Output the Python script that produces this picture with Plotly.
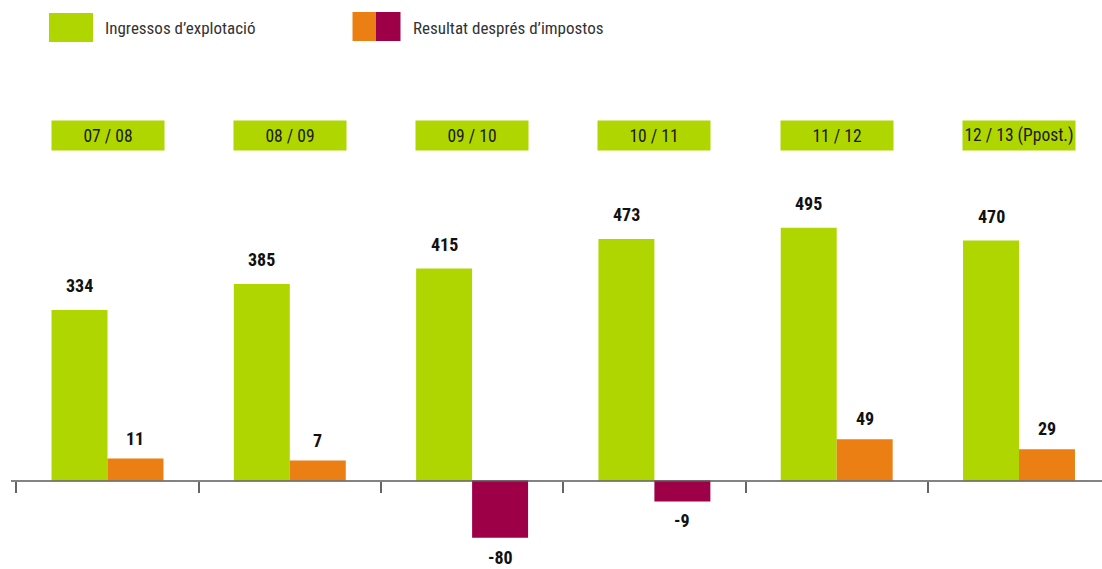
import plotly.graph_objects as go
import numpy as np

# ---------------- data ----------------
categories = ["07 / 08", "08 / 09", "09 / 10", "10 / 11", "11 / 12", "12 / 13 (Ppost.)"]
ingressos = [334, 385, 415, 473, 495, 470]
resultat = [11, 7, -80, -9, 49, 29]
series_names = ["Ingressos d’explotació", "Resultat després d’impostos"]

# ---------------- style ----------------
GREEN = "#B0D600"
ORANGE = "#EB7F14"
PURPLE = "#9E0048"
FONT = "Roboto Condensed, Liberation Sans Narrow, Roboto, sans-serif"

W, H = 1102, 569
ML, MR, MT, MB = 11, 0, 0, 0
PX_PER_UNIT = 0.5106      # vertical scale
ZERO_PX = 480.5           # pixel row of the zero line
CAT_PX = 182.3            # width of one category
FIRST_CENTER_PX = 107.5   # centre of first category
BARGAP = 0.386
STUB = 32                 # minimum visual stub the infographic adds to the result bars (data units)

plot_w = W - ML - MR
plot_h = H - MT - MB
x0 = -(FIRST_CENTER_PX - ML) / CAT_PX
x1 = x0 + plot_w / CAT_PX
ymin = -(H - MB - ZERO_PX) / PX_PER_UNIT
ymax = ymin + plot_h / PX_PER_UNIT

res_plot = [v + STUB * np.sign(v) for v in resultat]
res_colors = [ORANGE if v >= 0 else PURPLE for v in resultat]


def px_x(p):
    return (p - ML) / plot_w


def px_y(p):
    return (H - MB - p) / plot_h


fig = go.Figure()
fig.add_trace(go.Bar(
    x=categories, y=ingressos, name=series_names[0],
    marker=dict(color=GREEN, line=dict(width=0)),
    hovertemplate="%{x}: %{y}<extra>" + series_names[0] + "</extra>",
    showlegend=False,
))
fig.add_trace(go.Bar(
    x=categories, y=res_plot, name=series_names[1],
    marker=dict(color=res_colors, line=dict(width=0)),
    customdata=resultat,
    hovertemplate="%{x}: %{customdata}<extra>" + series_names[1] + "</extra>",
    showlegend=False,
))

annotations = []
off = (1 - BARGAP) / 4
VAL_FONT = dict(family=FONT, size=18, color="#111111")
# value labels
for i, v in enumerate(ingressos):
    annotations.append(dict(
        x=i - off, y=v, xref="x", yref="y", text=f"<b>{v}</b>", showarrow=False,
        xanchor="center", yanchor="bottom", yshift=13, borderpad=0, font=VAL_FONT))
for i, v in enumerate(resultat):
    pos = v >= 0
    annotations.append(dict(
        x=i + off, y=res_plot[i], xref="x", yref="y", text=f"<b>{v}</b>", showarrow=False,
        xanchor="center", yanchor="bottom" if pos else "top", yshift=9 if pos else -8,
        borderpad=0, font=VAL_FONT))
# category boxes
for i, c in enumerate(categories):
    annotations.append(dict(
        x=i, y=px_y(135.5), xref="x", yref="paper", text=c, showarrow=False,
        xanchor="center", yanchor="middle", width=112, height=29, borderpad=0,
        bgcolor=GREEN, font=dict(family=FONT, size=17.5, color="#1a1a1a")))

# manual legend
shapes = [
    dict(type="rect", xref="paper", yref="paper", x0=px_x(49), x1=px_x(93),
         y0=px_y(42), y1=px_y(13), fillcolor=GREEN, line=dict(width=0)),
    dict(type="rect", xref="paper", yref="paper", x0=px_x(352.5), x1=px_x(376),
         y0=px_y(41), y1=px_y(12), fillcolor=ORANGE, line=dict(width=0)),
    dict(type="rect", xref="paper", yref="paper", x0=px_x(376), x1=px_x(400.5),
         y0=px_y(41), y1=px_y(12), fillcolor=PURPLE, line=dict(width=0)),
]
LEG_FONT = dict(family=FONT, size=17, color="#333333")
annotations.append(dict(x=px_x(103), y=px_y(28), xref="paper", yref="paper",
                        text=series_names[0], showarrow=False, xanchor="left", yanchor="middle",
                        font=LEG_FONT))
annotations.append(dict(x=px_x(411), y=px_y(28), xref="paper", yref="paper",
                        text=series_names[1], showarrow=False, xanchor="left", yanchor="middle",
                        font=LEG_FONT))

fig.update_layout(
    width=W, height=H,
    margin=dict(l=ML, r=MR, t=MT, b=MB, pad=0),
    paper_bgcolor="white", plot_bgcolor="white",
    barmode="group", bargap=BARGAP, bargroupgap=0,
    font=dict(family=FONT),
    xaxis=dict(
        type="category", range=[x0, x1], showgrid=False, zeroline=False,
        showline=True, linecolor="rgba(90,90,90,0.75)", linewidth=2,
        ticks="outside", tickson="boundaries", ticklen=11, tickwidth=1.5, tickcolor="#666666",
        showticklabels=False, anchor="free", position=(H - MB - ZERO_PX) / plot_h,
        fixedrange=True,
    ),
    yaxis=dict(range=[ymin, ymax], visible=False, showgrid=False, zeroline=False, fixedrange=True),
    annotations=annotations,
    shapes=shapes,
    showlegend=False,
)

fig.write_html("out.html", config={"displayModeBar": False},
               post_script="document.body.style.margin='0';")
